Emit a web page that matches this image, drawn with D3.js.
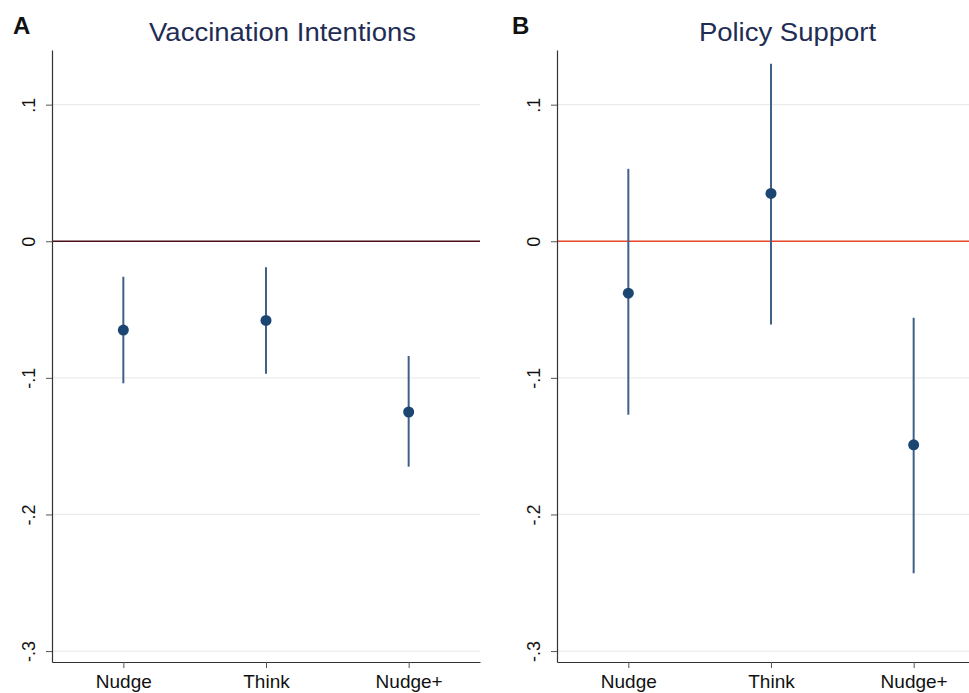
<!DOCTYPE html>
<html>
<head>
<meta charset="utf-8">
<script src="https://cdn.jsdelivr.net/npm/d3@7"></script>
<style>
  body { margin: 0; background: #fff; }
  svg { display: block; font-family: "Liberation Sans", Arial, sans-serif; }
</style>
</head>
<body>
<script>
// data
var categories = ["Nudge", "Think", "Nudge+"];
var vaccEst = [-0.065, -0.058, -0.125];
var vaccLow = [-0.104, -0.097, -0.165];
var vaccHigh = [-0.026, -0.019, -0.084];
var policyEst = [-0.038, 0.035, -0.149];
var policyLow = [-0.127, -0.061, -0.243];
var policyHigh = [0.053, 0.130, -0.056];
var yTicks = [0.1, 0, -0.1, -0.2, -0.3];
var yTickLabels = [".1", "0", "-.1", "-.2", "-.3"];

var width = 969, height = 693;

var svg = d3.select("body").append("svg")
    .attr("width", width)
    .attr("height", height);

function panel(opts) {
  var x = d3.scaleLinear().domain([0.5, 3.5]).range([opts.left, opts.left + 428]);
  var y = d3.scaleLinear().domain([0.14, -0.308]).range([50, 662]);

  var g = svg.append("g");

  // grid
  g.selectAll("line.grid")
    .data(yTicks)
    .join("line")
      .attr("class", "grid")
      .attr("x1", opts.left)
      .attr("x2", opts.left + 428)
      .attr("y1", d => y(d))
      .attr("y2", d => y(d))
      .attr("stroke", "#ebebeb")
      .attr("stroke-width", 1.2);

  // zero line
  g.append("line")
    .attr("x1", opts.left)
    .attr("x2", opts.left + 428)
    .attr("y1", y(0))
    .attr("y2", y(0))
    .attr("stroke", opts.zeroColor)
    .attr("stroke-width", 1.6);

  // y axis
  var yAxis = d3.axisLeft(y)
    .tickValues(yTicks)
    .tickFormat((d, i) => yTickLabels[i])
    .tickSize(6)
    .tickSizeOuter(0);
  var ya = g.append("g")
    .attr("transform", "translate(" + opts.left + ",0)")
    .call(yAxis);
  ya.select(".domain").attr("stroke", "#333").attr("stroke-width", 1.2);
  ya.selectAll(".tick line").attr("stroke", "#555");
  ya.selectAll(".tick text")
    .attr("font-size", 18)
    .attr("fill", "#111")
    .attr("text-anchor", "middle")
    .attr("x", 0)
    .attr("y", 0)
    .attr("dy", "0.36em")
    .attr("transform", "translate(-23,0) rotate(-90)");

  // x axis
  var xAxis = d3.axisBottom(x)
    .tickValues([1, 2, 3])
    .tickFormat((d, i) => categories[i])
    .tickSize(6)
    .tickSizeOuter(0);
  var xa = g.append("g")
    .attr("transform", "translate(0,662)")
    .call(xAxis);
  xa.select(".domain").attr("stroke", "#333").attr("stroke-width", 1.2);
  xa.selectAll(".tick line").attr("stroke", "#555");
  xa.selectAll(".tick text")
    .attr("font-size", 19)
    .attr("fill", "#111")
    .attr("y", 13);

  // error bars
  g.selectAll("line.ci")
    .data(opts.est)
    .join("line")
      .attr("class", "ci")
      .attr("x1", (d, i) => x(i + 1))
      .attr("x2", (d, i) => x(i + 1))
      .attr("y1", (d, i) => y(opts.low[i]))
      .attr("y2", (d, i) => y(opts.high[i]))
      .attr("stroke", "#3f6189")
      .attr("stroke-width", 2);

  g.selectAll("circle.pt")
    .data(opts.est)
    .join("circle")
      .attr("class", "pt")
      .attr("cx", (d, i) => x(i + 1))
      .attr("cy", d => y(d))
      .attr("r", 5.5)
      .attr("fill", "#1b4672");

  // title (slightly widened like the source image)
  svg.append("text")
    .attr("transform", "translate(" + opts.titleX + ",41) scale(1.1,1)")
    .attr("text-anchor", "middle")
    .attr("font-size", 25)
    .attr("fill", "#1f2d55")
    .text(opts.title);

  svg.append("text")
    .attr("x", opts.letterX)
    .attr("y", 34)
    .attr("font-size", 24)
    .attr("font-weight", "bold")
    .attr("fill", "#111")
    .text(opts.letter);
}

panel({
  left: 52, est: vaccEst, low: vaccLow, high: vaccHigh,
  zeroColor: "#4a0f18", title: "Vaccination Intentions", titleX: 282.5,
  letter: "A", letterX: 13
});
panel({
  left: 557, est: policyEst, low: policyLow, high: policyHigh,
  zeroColor: "#e5472b", title: "Policy Support", titleX: 787.5,
  letter: "B", letterX: 512
});
</script>
</body>
</html>
